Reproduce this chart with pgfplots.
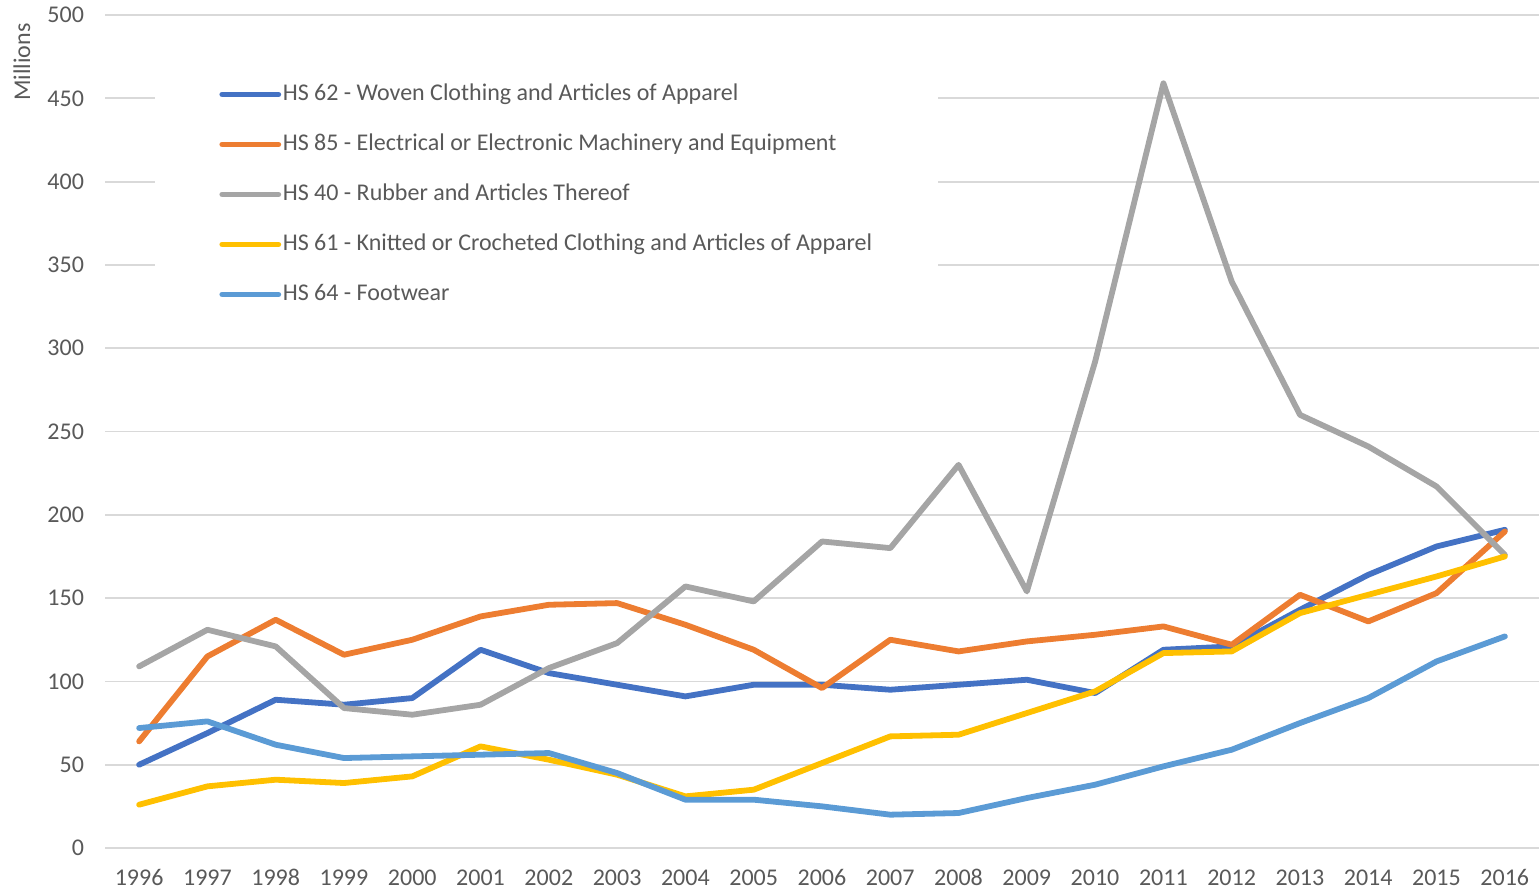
\documentclass[border=0pt]{standalone}
\usepackage{pgfplots}
\pgfplotsset{compat=1.18}
\usepackage{fontspec}
\setmainfont{Carlito}
\definecolor{cA}{HTML}{4472C4}
\definecolor{cB}{HTML}{ED7D31}
\definecolor{cC}{HTML}{A5A5A5}
\definecolor{cD}{HTML}{FFC000}
\definecolor{cE}{HTML}{5B9BD5}
\definecolor{txt}{HTML}{595959}
\definecolor{gridc}{HTML}{D9D9D9}
\begin{document}
\begin{tikzpicture}
\begin{axis}[name=ax,
  scale only axis, width=717pt, height=416.5pt,
  xmin=1995.5, xmax=2016.5, ymin=0, ymax=500,
  xtick={1996,...,2016}, ytick={0,50,...,500},
  /pgf/number format/assume math mode=true,
  xticklabel={\pgfmathprintnumber[1000 sep={}]{\tick}},
  axis line style={draw=none},
  major tick length=0pt,
  xmajorgrids=false, ymajorgrids=true,
  major grid style={draw=gridc, line width=0.9pt},
  font=\fontsize{12}{14}\selectfont,
  tick label style={text=txt},
  yticklabel style={anchor=east, xshift=-7pt},
  xticklabel style={anchor=north, yshift=-6.8pt, text height=8.2pt, text depth=0.5pt},
  legend image code/.code={\draw[#1] (0pt,0pt) -- (28pt,0pt);},
  legend cell align=left,
  legend style={at={(rel axis cs:0,1)}, anchor=north west, xshift=25pt, yshift=-23.5pt,
    fill=white, draw=none, inner xsep=32pt, inner ysep=8pt, row sep=9pt,
    text=txt, font=\fontsize{12}{14}\selectfont,
    nodes={inner xsep=0.8pt, inner ysep=2pt, text height=9pt, text depth=3pt}},
  every axis plot/.append style={line width=2.9pt, line join=round, line cap=round},
]
\addplot[cA] coordinates {(1996,50)(1997,69)(1998,89)(1999,86)(2000,90)(2001,119)(2002,105)(2003,98)(2004,91)(2005,98)(2006,98)(2007,95)(2008,98)(2009,101)(2010,93)(2011,119)(2012,121)(2013,143)(2014,164)(2015,181)(2016,191)};
\addlegendentry{HS 62 - Woven Clothing and Articles of Apparel}
\addplot[cB] coordinates {(1996,64)(1997,115)(1998,137)(1999,116)(2000,125)(2001,139)(2002,146)(2003,147)(2004,134)(2005,119)(2006,96)(2007,125)(2008,118)(2009,124)(2010,128)(2011,133)(2012,122)(2013,152)(2014,136)(2015,153)(2016,190)};
\addlegendentry{HS 85 - Electrical or Electronic Machinery and Equipment}
\addplot[cC] coordinates {(1996,109)(1997,131)(1998,121)(1999,84)(2000,80)(2001,86)(2002,108)(2003,123)(2004,157)(2005,148)(2006,184)(2007,180)(2008,230)(2009,154)(2010,292)(2011,459)(2012,340)(2013,260)(2014,241)(2015,217)(2016,176)};
\addlegendentry{HS 40 - Rubber and Articles Thereof}
\addplot[cD] coordinates {(1996,26)(1997,37)(1998,41)(1999,39)(2000,43)(2001,61)(2002,53)(2003,44)(2004,31)(2005,35)(2006,51)(2007,67)(2008,68)(2009,81)(2010,94)(2011,117)(2012,118)(2013,141)(2014,152)(2015,163)(2016,175)};
\addlegendentry{HS 61 - Knitted or Crocheted Clothing and Articles of Apparel}
\addplot[cE] coordinates {(1996,72)(1997,76)(1998,62)(1999,54)(2000,55)(2001,56)(2002,57)(2003,45)(2004,29)(2005,29)(2006,25)(2007,20)(2008,21)(2009,30)(2010,38)(2011,49)(2012,59)(2013,75)(2014,90)(2015,112)(2016,127)};
\addlegendentry{HS 64 - Footwear}
\end{axis}
\node[rotate=90, anchor=east, text=txt, font=\fontsize{12}{14}\selectfont, inner sep=0pt] at ([xshift=-41.5pt, yshift=-4pt]ax.north west) {Millions};
\pgfresetboundingbox
\path ([xshift=-52.5pt,yshift=-20.5pt]ax.south west) rectangle ([yshift=7.5pt]ax.north east);
\end{tikzpicture}
\end{document}
